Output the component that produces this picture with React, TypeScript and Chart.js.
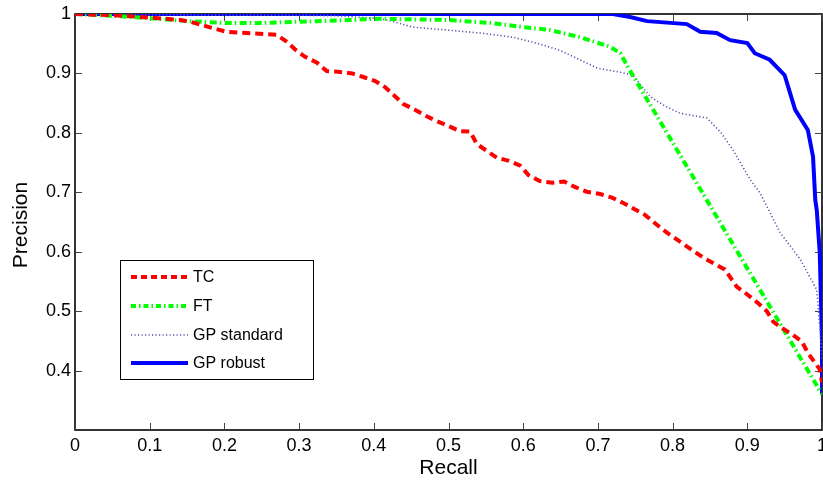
import React, { useEffect, useRef } from "react";
import { Chart, registerables } from "chart.js";

Chart.register(...registerables);

const xTickValues = [0, 0.1, 0.2, 0.3, 0.4, 0.5, 0.6, 0.7, 0.8, 0.9, 1];
const yTickValues = [0.4, 0.5, 0.6, 0.7, 0.8, 0.9, 1];

const tcX = [0, 0.05, 0.1, 0.141, 0.154, 0.185, 0.203, 0.23, 0.27, 0.284, 0.295, 0.308, 0.324, 0.337, 0.352, 0.371, 0.386, 0.402, 0.415, 0.428, 0.439, 0.455, 0.469, 0.484, 0.499, 0.515, 0.529, 0.538, 0.551, 0.565, 0.581, 0.596, 0.607, 0.622, 0.639, 0.655, 0.669, 0.685, 0.703, 0.719, 0.734, 0.763, 0.787, 0.812, 0.841, 0.87, 0.886, 0.9, 0.914, 0.926, 0.935, 0.946, 0.961, 0.973, 0.981, 0.997, 1];
const tcY = [1, 0.998, 0.994, 0.99, 0.987, 0.976, 0.97, 0.968, 0.965, 0.953, 0.94, 0.928, 0.918, 0.904, 0.903, 0.9, 0.894, 0.887, 0.877, 0.862, 0.849, 0.839, 0.829, 0.82, 0.812, 0.803, 0.802, 0.781, 0.77, 0.758, 0.753, 0.745, 0.729, 0.719, 0.716, 0.718, 0.709, 0.701, 0.697, 0.691, 0.682, 0.662, 0.637, 0.615, 0.59, 0.57, 0.541, 0.528, 0.514, 0.5, 0.482, 0.472, 0.46, 0.449, 0.43, 0.402, 0.38];

const ftX = [0, 0.05, 0.1, 0.15, 0.2, 0.25, 0.3, 0.35, 0.408, 0.45, 0.498, 0.556, 0.6, 0.636, 0.676, 0.716, 0.73, 0.74, 1];
const ftY = [1, 0.997, 0.993, 0.988, 0.985, 0.985, 0.987, 0.989, 0.992, 0.991, 0.99, 0.985, 0.978, 0.973, 0.961, 0.945, 0.934, 0.911, 0.36];

const gpsX = [0, 0.1, 0.2, 0.3, 0.35, 0.4, 0.418, 0.452, 0.498, 0.542, 0.586, 0.618, 0.649, 0.676, 0.699, 0.73, 0.747, 0.77, 0.79, 0.81, 0.846, 0.865, 0.881, 0.904, 0.917, 0.944, 0.971, 0.993, 0.997, 1];
const gpsY = [1, 0.999, 0.998, 0.998, 0.997, 0.993, 0.99, 0.978, 0.973, 0.968, 0.961, 0.951, 0.939, 0.923, 0.909, 0.902, 0.897, 0.861, 0.845, 0.833, 0.825, 0.8, 0.771, 0.721, 0.699, 0.632, 0.587, 0.536, 0.474, 0.42];

const gprX = [0, 0.2, 0.4, 0.6, 0.72, 0.743, 0.766, 0.819, 0.837, 0.859, 0.877, 0.9, 0.91, 0.93, 0.95, 0.964, 0.981, 0.988, 0.991, 0.993, 0.997, 1, 1];
const gprY = [1, 1, 1, 1, 1, 0.995, 0.988, 0.983, 0.97, 0.968, 0.956, 0.951, 0.934, 0.923, 0.897, 0.839, 0.805, 0.76, 0.687, 0.67, 0.598, 0.452, 0.36];

const seriesNames = ["TC", "FT", "GP standard", "GP robust"];

const FONT = "'Liberation Sans', Arial, Helvetica, sans-serif";

const zip = (xs: number[], ys: number[]) => xs.map((x, i) => ({ x, y: ys[i] }));
const fmt = (v: number) => String(Math.round(v * 10) / 10);

const legendStyles = [
  { color: "#ff0000", width: 4, dash: [6, 4] },
  { color: "#00ff00", width: 4, dash: [5, 3, 1.5, 3] },
  { color: "rgb(85,85,170)", width: 1.6, dash: [1.2, 2.3] },
  { color: "#0000ff", width: 4, dash: [] as number[] },
];

const boxPlugin = {
  id: "matlabBox",
  beforeDatasetsDraw(chart: any) {
    const { ctx, chartArea: a, scales } = chart;
    const x = scales.x;
    const y = scales.y;
    ctx.save();
    ctx.strokeStyle = "#000";
    ctx.lineWidth = 1.6;
    ctx.strokeRect(a.left, a.top, a.right - a.left, a.bottom - a.top);
    ctx.strokeStyle = "#444";
    ctx.lineWidth = 1;
    const tl = 7;
    ctx.beginPath();
    x.ticks.forEach((t: any) => {
      const px = Math.round(x.getPixelForValue(t.value)) + 0.5;
      ctx.moveTo(px, a.bottom);
      ctx.lineTo(px, a.bottom - tl);
      ctx.moveTo(px, a.top);
      ctx.lineTo(px, a.top + tl);
    });
    y.ticks.forEach((t: any) => {
      const py = Math.round(y.getPixelForValue(t.value)) + 0.5;
      ctx.moveTo(a.left, py);
      ctx.lineTo(a.left + tl, py);
      ctx.moveTo(a.right, py);
      ctx.lineTo(a.right - tl, py);
    });
    ctx.stroke();
    ctx.restore();
  },
  afterDraw(chart: any) {
    const { ctx, chartArea: a } = chart;
    ctx.save();
    ctx.fillStyle = "#000";
    ctx.font = `21px ${FONT}`;
    ctx.textAlign = "center";
    ctx.textBaseline = "alphabetic";
    ctx.fillText("Recall", (a.left + a.right) / 2, 474);
    ctx.save();
    ctx.translate(27, (a.top + a.bottom) / 2 + 3);
    ctx.rotate(-Math.PI / 2);
    ctx.fillText("Precision", 0, 0);
    ctx.restore();
    const lx = 120.5, ly = 260.5, lw = 193, lh = 119;
    ctx.fillStyle = "#fff";
    ctx.fillRect(lx, ly, lw, lh);
    ctx.strokeStyle = "#000";
    ctx.lineWidth = 1;
    ctx.strokeRect(lx, ly, lw, lh);
    const rows = [277, 306, 335, 363];
    ctx.font = `16px ${FONT}`;
    ctx.textAlign = "left";
    ctx.textBaseline = "middle";
    seriesNames.forEach((name, i) => {
      const s = legendStyles[i];
      ctx.save();
      ctx.strokeStyle = s.color;
      ctx.lineWidth = s.width;
      ctx.setLineDash(s.dash);
      ctx.beginPath();
      ctx.moveTo(131, rows[i]);
      ctx.lineTo(188, rows[i]);
      ctx.stroke();
      ctx.restore();
      ctx.fillStyle = "#000";
      ctx.fillText(name, 193, rows[i] + 1);
    });
    ctx.restore();
  },
};

export default function App() {
  const ref = useRef<HTMLCanvasElement | null>(null);
  useEffect(() => {
    document.body.style.margin = "0";
    if (!ref.current) return;
    const chart = new Chart(ref.current, {
      type: "line",
      data: {
        datasets: [
          {
            label: seriesNames[0],
            data: zip(tcX, tcY),
            borderColor: "#ff0000",
            borderWidth: 4,
            borderDash: [8, 5],
            pointRadius: 0,
            fill: false,
          },
          {
            label: seriesNames[1],
            data: zip(ftX, ftY),
            borderColor: "#00ff00",
            borderWidth: 4,
            borderDash: [7, 3, 1.5, 3.5],
            pointRadius: 0,
            fill: false,
          },
          {
            label: seriesNames[2],
            data: zip(gpsX, gpsY),
            borderColor: "rgb(85,85,170)",
            borderWidth: 1.6,
            borderDash: [1.2, 2.3],
            pointRadius: 0,
            fill: false,
          },
          {
            label: seriesNames[3],
            data: zip(gprX, gprY),
            borderColor: "#0000ff",
            borderWidth: 4,
            pointRadius: 0,
            fill: false,
          },
        ],
      },
      options: {
        responsive: false,
        animation: false,
        layout: { padding: { top: 14, right: 1, left: 0, bottom: 0 } },
        plugins: { legend: { display: false }, tooltip: { enabled: false } },
        scales: {
          x: {
            type: "linear",
            min: 0,
            max: 1,
            grid: { display: false, drawTicks: false },
            border: { display: false },
            afterBuildTicks: (s: any) => {
              s.ticks = xTickValues.map((v) => ({ value: v }));
            },
            afterFit: (s: any) => {
              s.height = 56;
              s.paddingLeft = 0;
              s.paddingRight = 0;
            },
            ticks: {
              callback: (v: any) => fmt(Number(v)),
              color: "#000",
              font: { family: FONT, size: 18 },
              padding: 5,
              maxRotation: 0,
              autoSkip: false,
            },
          },
          y: {
            type: "linear",
            min: 0.3,
            max: 1,
            grid: { display: false, drawTicks: false },
            border: { display: false },
            afterBuildTicks: (s: any) => {
              s.ticks = yTickValues.map((v) => ({ value: v }));
            },
            afterFit: (s: any) => {
              s.width = 75;
              s.paddingTop = 0;
              s.paddingBottom = 0;
            },
            ticks: {
              callback: (v: any) => fmt(Number(v)),
              color: "#000",
              font: { family: FONT, size: 18 },
              padding: 4,
              autoSkip: false,
            },
          },
        },
      },
      plugins: [boxPlugin],
    } as any);
    return () => chart.destroy();
  }, []);
  return (
    <canvas
      ref={ref}
      width={823}
      height={486}
      style={{ display: "block", width: 823, height: 486 }}
    />
  );
}
